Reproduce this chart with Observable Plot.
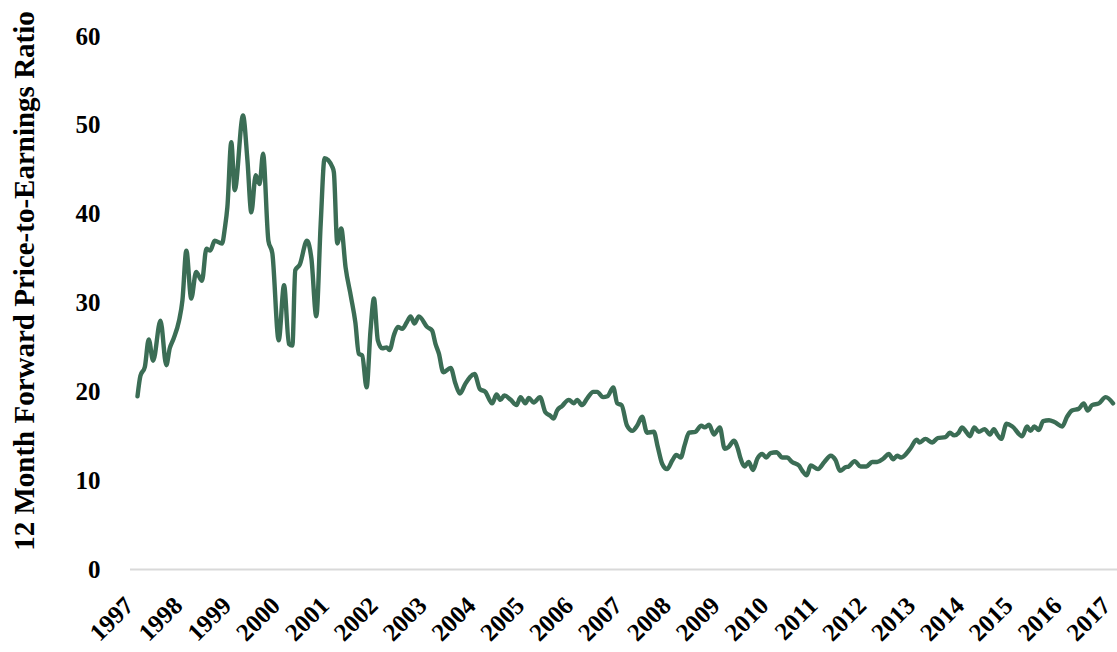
<!DOCTYPE html>
<html>
<head>
<meta charset="utf-8">
<script src="https://cdn.jsdelivr.net/npm/d3@7"></script>
<script src="https://cdn.jsdelivr.net/npm/@observablehq/plot@0.6"></script>
<style>
  html, body { margin: 0; padding: 0; background: #ffffff; }
  #chart { width: 1117px; height: 652px; overflow: hidden; }
</style>
</head>
<body>
<div id="chart"></div>
<script>
const yearTicks = d3.range(1997, 2018);
const yTicks = [0, 10, 20, 30, 40, 50, 60];
const yTitle = "12 Month Forward Price-to-Earnings Ratio";

const years = [
  1997.00,1997.06,1997.15,1997.23,1997.32,1997.47,1997.59,1997.66,1997.74,1997.85,1997.92,
  1998.00,1998.10,1998.20,1998.32,1998.41,1998.49,1998.58,1998.73,1998.79,1998.84,1998.92,1998.99,
  1999.16,1999.25,1999.33,1999.42,1999.50,1999.57,1999.68,1999.76,1999.89,
  2000.00,2000.10,2000.17,2000.23,2000.32,2000.47,2000.56,2000.66,2000.75,2000.83,2000.99,
  2001.02,2001.09,2001.17,2001.26,2001.37,2001.46,2001.53,2001.60,2001.69,2001.77,2001.84,2001.92,
  2002.01,2002.10,2002.16,2002.25,2002.33,2002.42,2002.51,2002.59,2002.67,2002.76,2002.93,
  2003.03,2003.10,2003.17,2003.26,2003.41,2003.51,2003.60,2003.71,2003.90,
  2004.01,2004.12,2004.26,2004.35,2004.43,2004.51,2004.64,2004.76,2004.84,2004.94,
  2005.01,2005.11,2005.24,2005.35,2005.45,2005.52,2005.59,2005.69,2005.83,2005.93,
  2006.00,2006.10,2006.21,2006.33,2006.41,2006.53,2006.62,2006.74,2006.82,2006.91,
  2007.02,2007.13,2007.23,2007.33,2007.43,2007.57,2007.65,2007.74,2007.84,2007.95,
  2008.03,2008.12,2008.20,2008.29,2008.42,2008.54,2008.61,2008.70,2008.80,2008.92,
  2009.02,2009.10,2009.21,2009.29,2009.34,2009.43,2009.51,2009.60,2009.69,2009.79,2009.87,2009.96,
  2010.08,2010.20,2010.30,2010.40,2010.54,2010.61,2010.70,2010.78,2010.93,
  2011.06,2011.19,2011.29,2011.38,2011.49,2011.56,2011.68,2011.80,2011.92,
  2012.04,2012.14,2012.27,2012.38,2012.47,2012.55,2012.63,2012.82,2012.95,
  2013.01,2013.13,2013.27,2013.38,2013.54,2013.63,2013.72,2013.81,2013.88,2013.95,
  2014.04,2014.13,2014.22,2014.34,2014.45,2014.53,2014.60,2014.68,2014.79,2014.91,
  2015.11,2015.21,2015.28,2015.36,2015.45,2015.54,2015.66,2015.77,2015.93,
  2016.03,2016.13,2016.27,2016.37,2016.45,2016.54,2016.68,2016.82,2016.97
];

const peRatio = [
  19.5,21.8,22.8,25.9,23.5,28.0,23.0,24.9,26.0,28.0,30.3,
  35.9,30.5,33.5,32.5,36.1,35.9,37.0,36.7,38.5,40.8,48.1,42.7,
  51.1,46.1,40.2,44.4,43.4,46.8,37.0,35.6,25.8,
  32.0,25.4,25.2,33.7,34.3,37.0,35.0,28.5,38.9,46.3,45.3,
  44.7,36.7,38.4,34.0,30.7,27.8,24.3,24.1,20.5,26.9,30.5,25.8,
  24.9,25.0,24.7,26.4,27.3,27.1,27.8,28.5,27.7,28.5,27.3,
  26.9,25.4,24.3,22.2,22.7,20.9,19.8,20.9,22.0,
  20.3,20.0,18.7,19.7,19.1,19.6,19.1,18.5,19.4,18.7,
  19.3,18.8,19.4,17.7,17.3,17.0,17.9,18.4,19.1,18.7,
  19.1,18.5,19.3,20.0,20.0,19.4,19.5,20.5,18.7,18.5,
  16.2,15.6,16.2,17.2,15.4,15.5,13.8,11.9,11.3,12.3,
  12.9,12.6,14.0,15.4,15.5,16.2,16.0,16.3,15.2,16.0,
  13.6,13.8,14.5,13.6,12.6,11.6,12.1,11.2,12.5,13.0,12.6,13.1,
  13.2,12.6,12.6,12.1,11.7,11.1,10.6,11.7,11.3,
  12.1,12.8,12.3,11.1,11.5,11.6,12.2,11.6,11.6,
  12.1,12.1,12.5,13.0,12.4,12.8,12.6,13.6,14.6,
  14.3,14.7,14.3,14.8,14.9,15.4,15.1,15.4,16.0,15.6,
  15.0,16.0,15.5,15.8,15.2,15.8,15.2,14.7,16.4,16.1,
  15.0,16.1,15.6,16.1,15.7,16.7,16.8,16.6,16.1,
  17.2,17.9,18.1,18.7,17.9,18.5,18.7,19.4,18.7
];

const data = years.map((t, i) => ({t, v: peRatio[i]}));
const FONT = "'Liberation Serif', 'Times New Roman', serif";

const chart = Plot.plot({
  width: 1117,
  height: 652,
  marginLeft: 130,
  marginRight: 0,
  marginTop: 36,
  marginBottom: 83,
  style: {fontFamily: FONT, fontWeight: "bold", fontSize: "25px", color: "#000", background: "#fff"},
  x: {type: "linear", domain: [1997, 2017], insetLeft: 7, insetRight: 3},
  y: {domain: [0, 60]},
  marks: [
    Plot.ruleY([0], {stroke: "#d9d9d9", strokeWidth: 2.2}),
    Plot.axisY({ticks: yTicks, tickSize: 0, tickPadding: 30, label: null, fontSize: 25}),
    Plot.axisX({ticks: yearTicks, tickFormat: d3.format("d"), tickSize: 0, tickPadding: 32, tickRotate: -45, dx: -8, label: null, fontSize: 25}),
    Plot.lineY(data, {x: "t", y: "v", stroke: "#3b6d55", strokeWidth: 4.4, curve: "monotone-x", strokeLinejoin: "round", strokeLinecap: "round"}),
    Plot.text([yTitle], {frameAnchor: "left", rotate: -90, textAnchor: "middle", dx: -106, dy: -22, fontSize: 29, fontWeight: "bold", fill: "#000"})
  ]
});
document.getElementById("chart").appendChild(chart);
</script>
</body>
</html>
